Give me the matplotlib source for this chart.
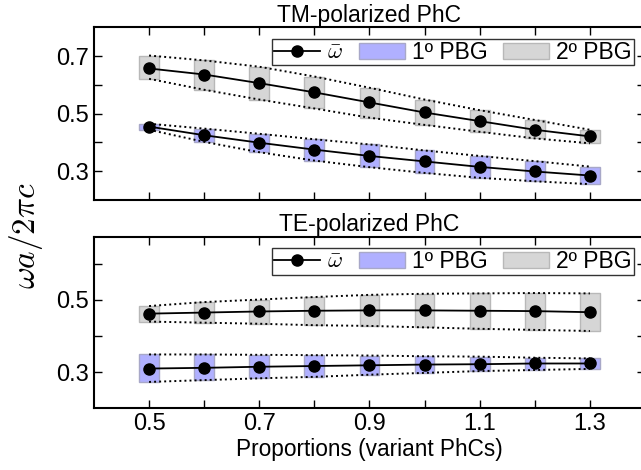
import matplotlib
matplotlib.use('Agg')
import matplotlib.pyplot as plt
from matplotlib.lines import Line2D
from matplotlib.patches import Patch

plt.rcParams['font.family'] = ['Liberation Sans', 'DejaVu Sans']
plt.rcParams['mathtext.fontset'] = 'cm'

x = [0.5, 0.6, 0.7, 0.8, 0.9, 1.0, 1.1, 1.2, 1.3]

# TM-polarized PhC
w1_tm = [0.455, 0.425, 0.399, 0.375, 0.353, 0.334, 0.315, 0.299, 0.285]
g1_tm_top = [0.465, 0.448, 0.430, 0.411, 0.393, 0.372, 0.353, 0.335, 0.316]
g1_tm_bot = [0.444, 0.402, 0.366, 0.337, 0.314, 0.294, 0.277, 0.265, 0.255]
w2_tm = [0.657, 0.636, 0.606, 0.574, 0.539, 0.504, 0.474, 0.444, 0.421]
g2_tm_top = [0.702, 0.685, 0.663, 0.629, 0.590, 0.549, 0.512, 0.478, 0.444]
g2_tm_bot = [0.621, 0.583, 0.549, 0.518, 0.486, 0.461, 0.437, 0.414, 0.397]

# TE-polarized PhC
w1_te = [0.310, 0.312, 0.315, 0.317, 0.319, 0.321, 0.322, 0.324, 0.324]
g1_te_top = [0.349, 0.349, 0.348, 0.347, 0.346, 0.344, 0.343, 0.340, 0.338]
g1_te_bot = [0.273, 0.278, 0.283, 0.287, 0.293, 0.298, 0.303, 0.306, 0.309]
w2_te = [0.462, 0.465, 0.468, 0.470, 0.471, 0.471, 0.470, 0.469, 0.466]
g2_te_top = [0.483, 0.494, 0.501, 0.508, 0.514, 0.517, 0.518, 0.519, 0.518]
g2_te_bot = [0.440, 0.437, 0.434, 0.430, 0.428, 0.424, 0.420, 0.417, 0.414]

xticks = [0.5, 0.6, 0.7, 0.8, 0.9, 1.0, 1.1, 1.2, 1.3]
xticklabels = ['0.5', '', '0.7', '', '0.9', '', '1.1', '', '1.3']

c1 = '#b0b0ff'
c2 = '#d6d6d6'
bw = 0.036

fig = plt.figure(figsize=(6.41, 4.70), dpi=100)
ax1 = fig.add_axes([0.1466, 0.5745, 0.8596, 0.3674])
ax2 = fig.add_axes([0.1466, 0.1313, 0.8596, 0.3651])


def panel(ax, w1, t1, b1, w2, t2, b2, title):
    h1 = [t - b for t, b in zip(t1, b1)]
    h2 = [t - b for t, b in zip(t2, b2)]
    ax.bar(x, h1, bottom=b1, width=bw, color=c1, edgecolor='#a8a8c8', lw=1, zorder=1)
    ax.bar(x, h2, bottom=b2, width=bw, color=c2, edgecolor='#b8b8b8', lw=1, zorder=1)
    for s in (t1, b1, t2, b2):
        ax.plot(x, s, color='k', ls=(0, (1, 1.6)), lw=1.4, zorder=2)
    ax.plot(x, w1, 'k-', marker='o', ms=8, lw=1.3, zorder=3)
    ax.plot(x, w2, 'k-', marker='o', ms=8, lw=1.3, zorder=3)
    ax.set_xlim(0.4, 1.4)
    ax.set_xticks(xticks)
    ax.tick_params(direction='in', length=6, width=1, top=True, right=True, labelsize=17)
    for sp in ax.spines.values():
        sp.set_linewidth(1.5)
    ax.set_title(title, fontsize=16.5, pad=4)
    handles = [Line2D([], [], color='k', marker='o', ms=8, lw=1.3),
               Patch(facecolor=c1, edgecolor='#a8a8c8'),
               Patch(facecolor=c2, edgecolor='#b8b8b8')]
    leg = ax.legend(handles, [r'$\bar{\omega}$', '1º PBG', '2º PBG'], ncol=3,
                    loc='upper right', fontsize=16.5, fancybox=False, borderpad=0.08,
                    handlelength=2.0, handletextpad=0.3, columnspacing=0.7,
                    borderaxespad=0.5)
    leg.get_frame().set_edgecolor('k')
    leg.get_frame().set_linewidth(1.0)


panel(ax1, w1_tm, g1_tm_top, g1_tm_bot, w2_tm, g2_tm_top, g2_tm_bot, 'TM-polarized PhC')
panel(ax2, w1_te, g1_te_top, g1_te_bot, w2_te, g2_te_top, g2_te_bot, 'TE-polarized PhC')

ax1.set_ylim(0.2, 0.8)
ax1.set_yticks([0.3, 0.4, 0.5, 0.6, 0.7])
ax1.set_yticklabels(['0.3', '', '0.5', '', '0.7'])
ax1.set_xticklabels([])

ax2.set_ylim(0.2, 0.675)
ax2.set_yticks([0.3, 0.4, 0.5, 0.6])
ax2.set_yticklabels(['0.3', '', '0.5', ''])
ax2.set_xticklabels(xticklabels)
ax2.set_xlabel('Proportions (variant PhCs)', fontsize=16.3, labelpad=2)

fig.text(0.04, 0.499, r'$\omega a/2\pi c$', rotation=90, fontsize=24,
         ha='center', va='center')

fig.savefig('out.png', dpi=100)
